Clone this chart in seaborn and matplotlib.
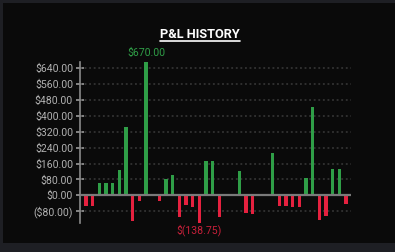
import matplotlib
matplotlib.use("Agg")
import matplotlib.pyplot as plt
import seaborn as sns
import numpy as np
import pandas as pd
from matplotlib.patches import Rectangle
from matplotlib.lines import Line2D
from matplotlib.ticker import FuncFormatter

# ---- data ----
trades = list(range(40))
pnl = [-52, -55, 62, 62, 62, 128, 345, -128, -27, 670, -3, -28, 80, 103,
       -110, -47, -60, -138.75, 175, 175, -110, 2, 0, 122, -87, -95, -3, -3,
       212, -55, -55, -60, -60, 87, 444, -122, -102, 132, 132, -43]
yticks = [-80, 0, 80, 160, 240, 320, 400, 480, 560, 640]
title = "P&L HISTORY"

GREEN = "#2f9e47"
RED = "#e5213f"
BG = "#0a0a0a"
OUTER = "#1e1f24"

sns.set_theme(style="dark")
plt.rcParams["font.family"] = ["Roboto", "DejaVu Sans"]

df = pd.DataFrame({"trade": trades, "pnl": pnl})
df["sign"] = np.where(df["pnl"] >= 0, "gain", "loss")

W, H = 395, 252
fig = plt.figure(figsize=(W / 100, H / 100), dpi=100, facecolor=OUTER)
fig.patches.append(Rectangle((3 / W, 9 / H), 1 - 3 / W, 1 - 12 / H,
                             transform=fig.transFigure, facecolor=BG,
                             edgecolor="none", zorder=-5))

ax = fig.add_axes([80 / W, 1 - 223 / H, 271 / W, 161 / H])
ax.set_facecolor("none")
ax.set_zorder(2)

sns.barplot(data=df, x="trade", y="pnl", hue="sign",
            palette={"gain": GREEN, "loss": RED}, dodge=False,
            width=0.5, legend=False, ax=ax, zorder=3, saturation=1,
            linewidth=0, edgecolor="none")

ymin, ymax = min(pnl), max(pnl)
ax.set_ylim(ymin, ymax)
ax.set_xlim(-0.9, 39.75)
ax.set_yticks(yticks)

def fmt(v, pos):
    if v < 0:
        return f"(${abs(v):,.2f})"
    return f"${v:,.2f}"

ax.yaxis.set_major_formatter(FuncFormatter(fmt))
ax.set_xticks([])
ax.set_xlabel("")
ax.set_ylabel("")

for s in ["top", "right", "bottom"]:
    ax.spines[s].set_visible(False)
ax.spines["left"].set_visible(True)
ax.spines["left"].set_color("#8a8a8a")
ax.spines["left"].set_linewidth(1.2)

ax.tick_params(axis="y", direction="inout", length=6, width=1.2,
               color="#9a9a9a", labelcolor="#b0b0b0", labelsize=7.6, pad=2,
               left=True)

ax.grid(False)
for t in yticks:
    if t != 0:
        ax.axhline(t, color="#3a3a3a", linestyle=(0, (1.2, 1.8)),
                   linewidth=1.1, zorder=1)
ax.axhline(0, color="#7a7a7a", linewidth=1.6, zorder=4)

# annotations for max and min
imax = int(np.argmax(pnl))
imin = int(np.argmin(pnl))
ax.annotate(f"${pnl[imax]:,.2f}", (imax, pnl[imax]), xytext=(0, 3),
            textcoords="offset points", ha="center", va="bottom",
            color=GREEN, fontsize=7.6, annotation_clip=False)
ax.annotate(f"$({abs(pnl[imin]):,.2f})", (imin, pnl[imin]), xytext=(0, -1),
            textcoords="offset points", ha="center", va="top",
            color="#c8203a", fontsize=7.6, annotation_clip=False)

# title with underline
ttl = fig.text(200 / W, 1 - 35 / H, title, ha="center", va="center",
               color="white", fontsize=9.2, fontweight="bold")
fig.canvas.draw()
bb = ttl.get_window_extent().transformed(fig.transFigure.inverted())
fig.add_artist(Line2D([bb.x0, bb.x1], [1 - 40.5 / H, 1 - 40.5 / H],
                      transform=fig.transFigure, color="white", linewidth=1.2))

fig.savefig("out.png", dpi=100, facecolor=OUTER)
